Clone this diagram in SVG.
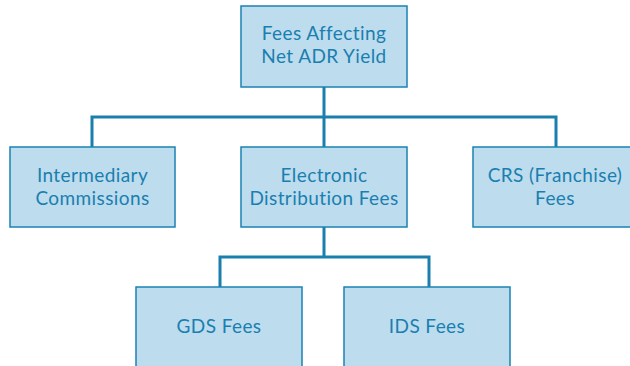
<svg xmlns="http://www.w3.org/2000/svg" width="630" height="366" viewBox="0 0 630 366">
<style>
.box{fill:#bddced;stroke:#1a83b3;stroke-width:1.5}
.t{font-family:Lato,"Open Sans",sans-serif;font-size:19px;letter-spacing:0.4px;fill:#1a7fb0;text-anchor:middle}
.c{fill:none;stroke:#1a7fae;stroke-width:3}
</style>
<rect width="630" height="366" fill="#ffffff"/>
<g id="connectors">
<path class="c" d="M324 87V117M92 147V117H556V147M324 117V147"/>
<path class="c" d="M324 227V257M220 287V257H429V287"/>
</g>
<g id="root"><rect class="box" x="241" y="6" width="166" height="81"/>
<text class="t" x="324" y="40">Fees Affecting</text><text class="t" x="324" y="63">Net ADR Yield</text></g>
<g id="intermediary"><rect class="box" x="10" y="147" width="165" height="80"/>
<text class="t" x="92.5" y="182">Intermediary</text><text class="t" x="92.5" y="205">Commissions</text></g>
<g id="electronic"><rect class="box" x="241" y="147" width="166" height="80"/>
<text class="t" x="324" y="182">Electronic</text><text class="t" x="324" y="205">Distribution Fees</text></g>
<g id="crs"><rect class="box" x="473" y="147" width="165" height="80"/>
<text class="t" x="555" y="182">CRS (Franchise)</text><text class="t" x="555" y="205">Fees</text></g>
<g id="gds"><rect class="box" x="136" y="287" width="166" height="90"/>
<text class="t" x="219" y="333">GDS Fees</text></g>
<g id="ids"><rect class="box" x="344" y="287" width="166" height="90"/>
<text class="t" x="427" y="333">IDS Fees</text></g>
</svg>
